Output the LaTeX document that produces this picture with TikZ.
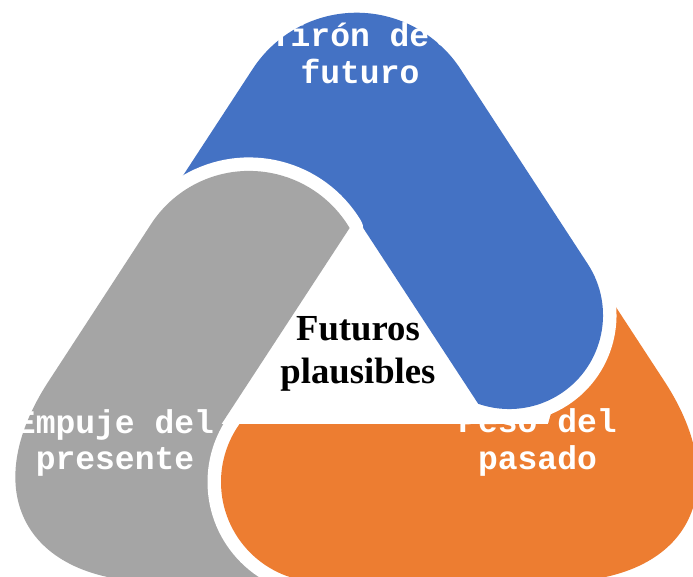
\documentclass[tikz,border=0pt]{standalone}
\usepackage{fontspec}
\setmainfont{Liberation Serif}
\setmonofont{Liberation Mono}
\definecolor{bandblue}{HTML}{4472C4}
\definecolor{bandorange}{HTML}{ED7D31}
\definecolor{bandgray}{HTML}{A5A5A5}
\tikzstyle{band} = [preaction={draw=white, line width=27pt, line join=round}]
\tikzstyle{bandtext} = [text=white, font=\ttfamily\bfseries\fontsize{33}{36.5}\selectfont, align=center, anchor=base]
\tikzstyle{centertext} = [text=black, font=\bfseries\fontsize{36.7}{43}\selectfont, align=center, anchor=base]
\newcommand{\bluearm}{(101.7,300) -- (252.8,68.8) arc[start angle=-146.8, end angle=-33.2, radius=124] -- (587.7,263.9) arc[start angle=-33.2, end angle=109.3, radius=93.8] -- (356.4,217.6) -- (302.5,300) -- cycle}
\begin{document}
\begin{tikzpicture}[x=1pt, y=1pt, yscale=-1]

\clip (0,0) rectangle (693,576);
\fill[white] (0,0) rectangle (693,576);

% Bands
\path[band, fill=bandblue] \bluearm;
\path[band, fill=bandgray] (310,424) -- (221.5,424) -- (349.6,228) arc[start angle=-30.8, end angle=-146.8, radius=117] -- (48.7,381.1) .. controls (-23.5,491.6) and (25.4,582) .. (157.4,582) -- (310,582) -- cycle;
\path[band, fill=bandorange] (548,424) -- (575,330) -- (572.1,240) -- (664.3,381.1) .. controls (736.5,491.6) and (687.6,582) .. (555.6,582) -- (321,582) arc[start angle=90, end angle=215.4, radius=100] -- cycle;
\begin{scope}
\clip (420,200) rectangle (693,576);
\path[band, fill=bandblue] \bluearm;
\end{scope}

% Labels
\node[bandtext] (pull) at (360,83.3) {Tirón del\\futuro};
\node[bandtext] (push) at (115,469.5) {Empuje del\\presente};
\node[bandtext] (weight) at (537.5,469) {Peso del\\pasado};
\node[centertext] (core) at (358,383) {Futuros\\plausibles};

\end{tikzpicture}
\end{document}
